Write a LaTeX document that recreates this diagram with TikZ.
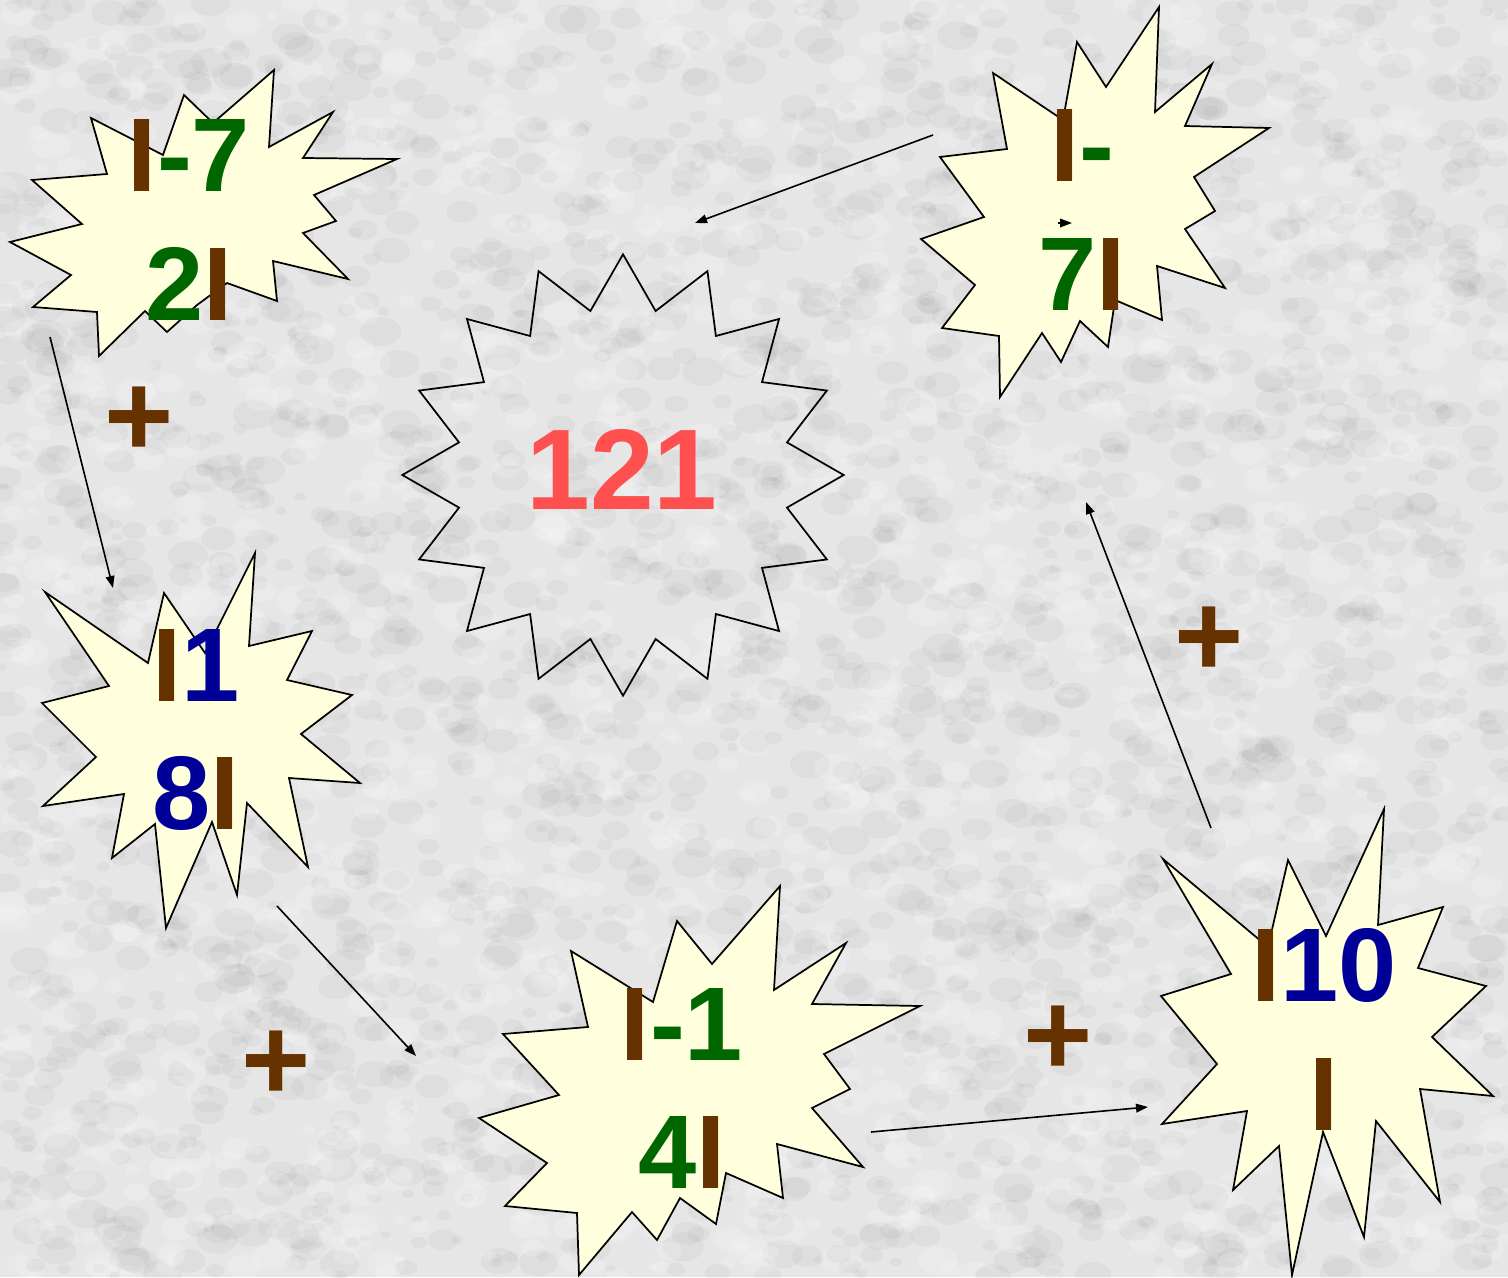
\documentclass[tikz,border=0pt]{standalone}
\usepackage{fontspec}
\setmainfont{Liberation Sans}
\usepackage{xcolor}
\usepackage{tikz}
\usetikzlibrary{arrows.meta, shapes.geometric}

\definecolor{absbrown}{RGB}{102,51,0}
\definecolor{valgreen}{RGB}{0,102,0}
\definecolor{valblue}{RGB}{0,0,153}
\definecolor{sumred}{RGB}{255,80,80}
\definecolor{boomfill}{RGB}{255,255,221}
\definecolor{bggray}{RGB}{230,230,230}
\newcommand{\absb}{\textcolor{absbrown}{I}}

\begin{document}
\begin{tikzpicture}[
  x=0.75pt, y=-0.75pt,
  boom/.style={draw, line width=1.3pt, fill=boomfill, line join=miter},
  sumstar/.style={star, star points=16, star point ratio=1.32, draw, line width=1.3pt,
    minimum size=331pt, inner sep=0pt},
  valtxt/.style={align=center, inner sep=0pt, font=\fontsize{78.5}{96.3}\selectfont\bfseries},
  sumtxt/.style={anchor=base, inner sep=0pt, font=\fontsize{86}{100}\selectfont\bfseries, sumred},
  plustxt/.style={inner sep=0pt, font=\fontsize{89}{100}\selectfont\bfseries, absbrown},
  arr/.style={-{Triangle[length=9pt,width=6.5pt]}, line width=1.2pt}
]
  \useasboundingbox (0,0) rectangle (1508,1277);
  \fill[bggray] (0,0) rectangle (1508,1277);
  \pgfmathsetseed{42}
  \foreach \k in {1,...,2600}{
    \pgfmathsetmacro{\bx}{1508*rnd}
    \pgfmathsetmacro{\by}{1277*rnd}
    \pgfmathsetmacro{\br}{5+16*rnd}
    \fill[black, opacity=0.03] (\bx,\by) ellipse [x radius=\br, y radius=0.7*\br];
  }
  \foreach \k in {1,...,1600}{
    \pgfmathsetmacro{\bx}{1508*rnd}
    \pgfmathsetmacro{\by}{1277*rnd}
    \pgfmathsetmacro{\br}{5+16*rnd}
    \fill[white, opacity=0.16] (\bx,\by) ellipse [x radius=\br, y radius=0.7*\br];
  }

  % explosions
  \draw[boom] (10,242) -- (82,224) -- (32,180) -- (107,174) -- (91,118) -- (163,155)
    -- (184,95) -- (213,123) -- (274,70) -- (269,147) -- (333,112) -- (303,158)
    -- (397,159) -- (314,195) -- (336,221) -- (303,233) -- (348,279) -- (273,261)
    -- (277,301) -- (227,283) -- (197,305) -- (167,332) -- (145,311) -- (99,356)
    -- (97,312) -- (33,307) -- (71,275) -- cycle;
  \draw[boom] (921,239) -- (975,285) -- (942,328) -- (999,336) -- (1000,397) -- (1042,333)
    -- (1061,362) -- (1080,321) -- (1108,347) -- (1115,300) -- (1162,320) -- (1157,266)
    -- (1225,288) -- (1185,229) -- (1215,211) -- (1194,177) -- (1269,128) -- (1185,126)
    -- (1212,64) -- (1155,112) -- (1159,7) -- (1106,87) -- (1077,42) -- (1063,120)
    -- (993,73) -- (1007,149) -- (940,157) -- (984,217) -- cycle;
  \draw[boom] (45,592) -- (148,663) -- (164,593) -- (205,653) -- (255,553) -- (249,646)
    -- (312,631) -- (287,680) -- (352,695) -- (301,734) -- (360,783) -- (289,778)
    -- (308,867) -- (247,803) -- (237,895) -- (212,822) -- (166,928) -- (155,824)
    -- (112,858) -- (124,794) -- (43,806) -- (96,757) -- (42,703) -- (109,686) -- cycle;
  \draw[boom] (479,1118) -- (547,1163) -- (505,1206) -- (577,1213) -- (579,1275) -- (632,1212)
    -- (657,1240) -- (680,1198) -- (716,1224) -- (726,1173) -- (783,1198) -- (777,1144)
    -- (863,1167) -- (812,1108) -- (850,1089) -- (824,1054) -- (920,1006) -- (812,1004)
    -- (846,943) -- (774,990) -- (780,886) -- (712,964) -- (677,921) -- (653,1002)
    -- (571,951) -- (588,1027) -- (503,1034) -- (559,1095) -- cycle;
  \draw[boom] (1163,859) -- (1268,947) -- (1288,860) -- (1326,936) -- (1384,809) -- (1378,925)
    -- (1443,907) -- (1418,968) -- (1486,986) -- (1432,1037) -- (1493,1096) -- (1420,1089)
    -- (1440,1202) -- (1376,1121) -- (1364,1237) -- (1323,1132) -- (1292,1275) -- (1279,1146)
    -- (1233,1190) -- (1247,1111) -- (1162,1124) -- (1217,1064) -- (1161,996) -- (1231,974)
    -- cycle;

  \node[sumstar] (star) at (623,475) {};
  \node[sumtxt] (sum) at (622,509.3) {121};

  \node[valtxt, valgreen] (v1) at (189,220) {\absb-7\\2\absb};
  \node[valtxt, valgreen] (v2) at (1082,210) {\absb-\\7\absb};
  \node[valtxt, valblue] (v3) at (196,730) {\absb1\\8\absb};
  \node[valtxt, valgreen] (v4) at (682,1088.4) {\absb-1\\4\absb};
  \node[valtxt, valblue] (v5) at (1324,1029.4) {\absb10\\\absb};

  \node[plustxt] (p1) at (139,422) {+};
  \node[plustxt] (p2) at (276,1066) {+};
  \node[plustxt] (p3) at (1058,1041) {+};
  \node[plustxt] (p4) at (1209,642) {+};

  \coordinate (from1) at (933,135);
  \coordinate (to1) at (695,223);
  \coordinate (from2) at (50,337);
  \coordinate (to2) at (113,588);
  \coordinate (from3) at (277,906);
  \coordinate (to3) at (416,1056);
  \coordinate (from4) at (871,1132);
  \coordinate (to4) at (1148,1107);
  \coordinate (from5) at (1211,828);
  \coordinate (to5) at (1086,502);
  \coordinate (from6) at (1058,223);
  \coordinate (to6) at (1072,223);

  \draw[arr] (from1) -- (to1);
  \draw[arr] (from2) -- (to2);
  \draw[arr] (from3) -- (to3);
  \draw[arr] (from4) -- (to4);
  \draw[arr] (from5) -- (to5);
  \draw[arr] (from6) -- (to6);
\end{tikzpicture}
\end{document}
